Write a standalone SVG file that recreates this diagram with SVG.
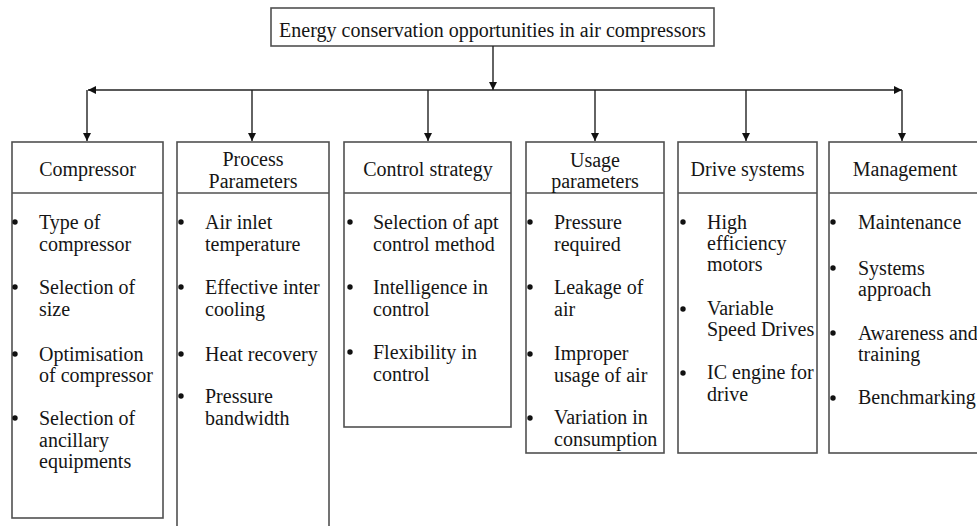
<svg xmlns="http://www.w3.org/2000/svg" width="977" height="526" viewBox="0 0 977 526">
<defs>
<marker id="ah" viewBox="0 0 10 10" refX="10" refY="5" markerWidth="8" markerHeight="8" markerUnits="userSpaceOnUse" orient="auto">
<path d="M0,0 L10,5 L0,10 Z" fill="#111"/>
</marker>
</defs>
<style>
text{font-family:"Liberation Serif","Times New Roman",serif;font-size:20px;fill:#151515}
.c{text-anchor:middle}
.box{fill:#fff;stroke:#505050;stroke-width:1.6}
.ln{stroke:#505050;stroke-width:1.6}
.con{fill:none;stroke:#222;stroke-width:1.4}
.dot{fill:#111}
</style>
<rect width="977" height="526" fill="#fff"/>
<g id="root">
<rect class="box" x="271" y="8" width="443" height="38"/>
<text class="c" x="492.5" y="37">Energy conservation opportunities in air compressors</text>
</g>
<g id="connectors">
<line class="con" x1="493" y1="46" x2="493" y2="90" marker-end="url(#ah)"/>
<line class="con" x1="493" y1="90" x2="88" y2="90" marker-end="url(#ah)"/>
<line class="con" x1="493" y1="90" x2="902" y2="90" marker-end="url(#ah)"/>
<line class="con" x1="87" y1="90" x2="87" y2="141" marker-end="url(#ah)"/>
<line class="con" x1="252" y1="90" x2="252" y2="141" marker-end="url(#ah)"/>
<line class="con" x1="428" y1="90" x2="428" y2="141" marker-end="url(#ah)"/>
<line class="con" x1="595" y1="90" x2="595" y2="141" marker-end="url(#ah)"/>
<line class="con" x1="746" y1="90" x2="746" y2="141" marker-end="url(#ah)"/>
<line class="con" x1="902" y1="90" x2="902" y2="141" marker-end="url(#ah)"/>
</g>
<g id="compressor">
<rect class="box" x="12" y="142" width="151" height="376"/>
<line class="ln" x1="12" y1="193" x2="163" y2="193"/>
<text class="c" x="87.5" y="176">Compressor</text>
<circle class="dot" cx="15" cy="222" r="2.7"/>
<text x="39" y="229">Type of</text><text x="39" y="251">compressor</text>
<circle class="dot" cx="15" cy="287" r="2.7"/>
<text x="39" y="294">Selection of</text><text x="39" y="316">size</text>
<circle class="dot" cx="15" cy="354" r="2.7"/>
<text x="39" y="361">Optimisation</text><text x="39" y="382">of compressor</text>
<circle class="dot" cx="15" cy="418" r="2.7"/>
<text x="39" y="425">Selection of</text><text x="39" y="447">ancillary</text><text x="39" y="468">equipments</text>
</g>
<g id="process">
<rect class="box" x="177" y="142" width="152" height="400"/>
<line class="ln" x1="177" y1="193" x2="329" y2="193"/>
<text class="c" x="253" y="166">Process</text>
<text class="c" x="253" y="188">Parameters</text>
<circle class="dot" cx="181" cy="222" r="2.7"/>
<text x="205" y="229">Air inlet</text><text x="205" y="251">temperature</text>
<circle class="dot" cx="181" cy="287" r="2.7"/>
<text x="205" y="294">Effective inter</text><text x="205" y="316">cooling</text>
<circle class="dot" cx="181" cy="354" r="2.7"/>
<text x="205" y="361">Heat recovery</text>
<circle class="dot" cx="181" cy="396" r="2.7"/>
<text x="205" y="403">Pressure</text><text x="205" y="425">bandwidth</text>
</g>
<g id="control">
<rect class="box" x="344" y="142" width="167" height="285"/>
<line class="ln" x1="344" y1="193" x2="511" y2="193"/>
<text class="c" x="428" y="176">Control strategy</text>
<circle class="dot" cx="350" cy="222" r="2.7"/>
<text x="373" y="229">Selection of apt</text><text x="373" y="251">control method</text>
<circle class="dot" cx="350" cy="287" r="2.7"/>
<text x="373" y="294">Intelligence in</text><text x="373" y="316">control</text>
<circle class="dot" cx="350" cy="352" r="2.7"/>
<text x="373" y="359">Flexibility in</text><text x="373" y="381">control</text>
</g>
<g id="usage">
<rect class="box" x="526" y="142" width="138" height="311"/>
<line class="ln" x1="526" y1="193" x2="664" y2="193"/>
<text class="c" x="595" y="167">Usage</text>
<text class="c" x="595" y="188">parameters</text>
<circle class="dot" cx="530" cy="222" r="2.7"/>
<text x="554" y="229">Pressure</text><text x="554" y="251">required</text>
<circle class="dot" cx="530" cy="287" r="2.7"/>
<text x="554" y="294">Leakage of</text><text x="554" y="316">air</text>
<circle class="dot" cx="530" cy="354" r="2.7"/>
<text x="554" y="360">Improper</text><text x="554" y="382">usage of air</text>
<circle class="dot" cx="530" cy="418" r="2.7"/>
<text x="554" y="424">Variation in</text><text x="554" y="446">consumption</text>
</g>
<g id="drive">
<rect class="box" x="678" y="142" width="139" height="311"/>
<line class="ln" x1="678" y1="193" x2="817" y2="193"/>
<text class="c" x="747.5" y="176">Drive systems</text>
<circle class="dot" cx="683" cy="222" r="2.7"/>
<text x="707" y="229">High</text><text x="707" y="250">efficiency</text><text x="707" y="271">motors</text>
<circle class="dot" cx="683" cy="309" r="2.7"/>
<text x="707" y="315">Variable</text><text x="707" y="336">Speed Drives</text>
<circle class="dot" cx="683" cy="373" r="2.7"/>
<text x="707" y="379">IC engine for</text><text x="707" y="401">drive</text>
</g>
<g id="management">
<rect class="box" x="829" y="142" width="160" height="311"/>
<line class="ln" x1="829" y1="193" x2="989" y2="193"/>
<text class="c" x="905" y="176">Management</text>
<circle class="dot" cx="833" cy="222" r="2.7"/>
<text x="858" y="229">Maintenance</text>
<circle class="dot" cx="833" cy="268" r="2.7"/>
<text x="858" y="275">Systems</text><text x="858" y="296">approach</text>
<circle class="dot" cx="833" cy="333" r="2.7"/>
<text x="858" y="340">Awareness and</text><text x="858" y="361">training</text>
<circle class="dot" cx="833" cy="398" r="2.7"/>
<text x="858" y="404">Benchmarking</text>
</g>
</svg>
